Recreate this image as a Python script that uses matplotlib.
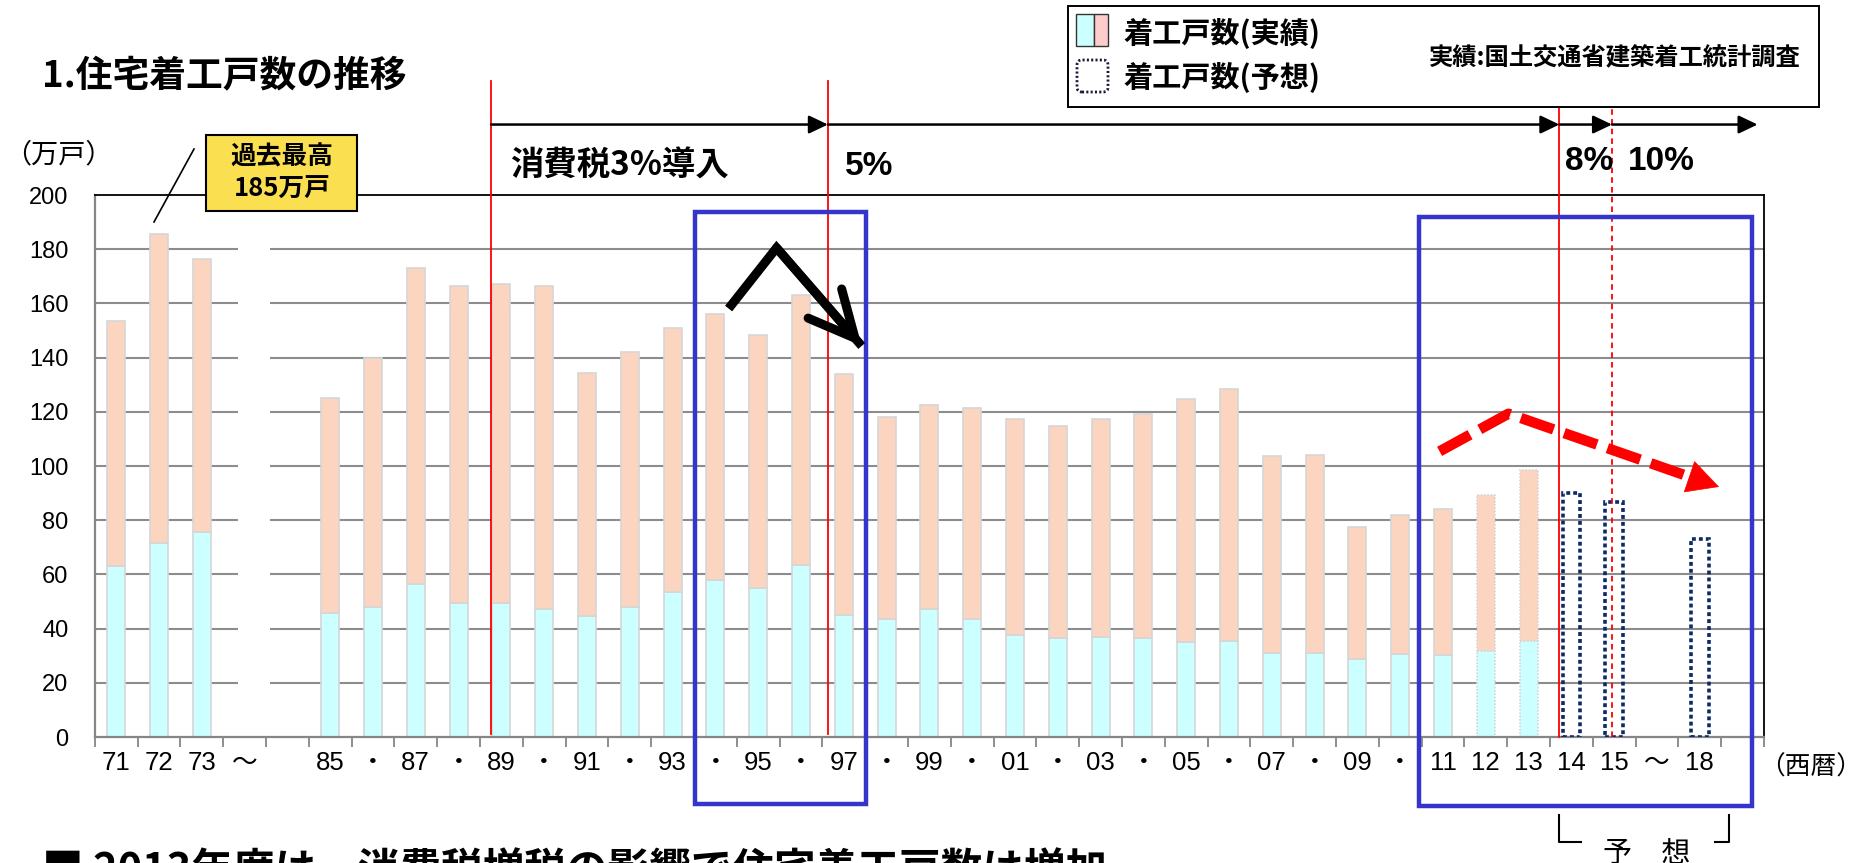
import numpy as np
import matplotlib
matplotlib.use('Agg')
import matplotlib.pyplot as plt
from matplotlib.patches import Rectangle, FancyBboxPatch
from matplotlib.transforms import IdentityTransform
from matplotlib.lines import Line2D

W, H = 1864, 863
plt.rcParams['font.family'] = ['Liberation Sans', 'Noto Sans CJK JP', 'DejaVu Sans']
plt.rcParams['lines.scale_dashes'] = False
JP = ['Noto Sans CJK JP', 'DejaVu Sans']

# ---------------- data ----------------
tick_labels = ['71', '72', '73', '～', '', '85', '・', '87', '・', '89', '・', '91', '・', '93',
               '・', '95', '・', '97', '・', '99', '・', '01', '・', '03', '・', '05', '・', '07',
               '・', '09', '・', '11', '12', '13', '14', '15', '～', '18', '']
total_actual = [153.6, 185.6, 176.3, None, None,
                125.1, 139.9, 172.9, 166.3, 167.3, 166.5, 134.3, 142.0, 151.0, 156.1,
                148.5, 163.0, 134.1, 118.0, 122.6, 121.3, 117.3, 114.6, 117.3, 119.3,
                124.9, 128.5, 103.6, 103.9, 77.5, 81.9, 84.1, 89.3, 98.7,
                None, None, None, None, None]
lower_actual = [63.1, 71.5, 75.7, None, None,
                45.9, 47.9, 56.3, 49.6, 49.6, 47.3, 44.5, 47.9, 53.5, 57.8,
                54.8, 63.5, 45.0, 43.6, 47.3, 43.6, 37.5, 36.4, 36.9, 36.4,
                35.0, 35.3, 31.0, 31.0, 28.7, 30.6, 30.3, 31.7, 35.3,
                None, None, None, None, None]
forecast = [None] * 34 + [90.0, 86.9, None, 73.2, None]
y_ticks = [0, 20, 40, 60, 80, 100, 120, 140, 160, 180, 200]

C_LOW = '#CCFFFF'
C_UP = '#FCD5C0'


def F(px, py):
    return (px / W, 1 - py / H)


fig = plt.figure(figsize=(W / 100, H / 100), dpi=100)
ax = fig.add_axes([94.7 / W, 1 - 737 / H, (1764 - 94.7) / W, (737 - 195) / H])
n = len(tick_labels)
ax.set_xlim(-0.5, n - 0.5)
ax.set_ylim(0, 200)

# gridlines (broken at the axis break)
for yv in y_ticks[1:-1]:
    ax.hlines(yv, -0.5, 2.85, color='#8C8C8C', lw=1.5, zorder=0)
    ax.hlines(yv, 3.6, n - 0.5, color='#8C8C8C', lw=1.5, zorder=0)

# actual bars
idx = [i for i, v in enumerate(total_actual) if v is not None]
low = np.array([lower_actual[i] for i in idx])
tot = np.array([total_actual[i] for i in idx])
b1 = ax.bar(idx, low, width=0.42, color=C_LOW, edgecolor='#D6D6D6', lw=1.2, zorder=2)
b2 = ax.bar(idx, tot - low, bottom=low, width=0.42, color=C_UP, edgecolor='#D6D6D6', lw=1.2, zorder=2)
for bars in (b1, b2):
    for i, p in zip(idx, bars.patches):
        if tick_labels[i] in ('12', '13'):
            p.set_linestyle((0, (1.2, 1.2)))

# forecast bars
fidx = [i for i, v in enumerate(forecast) if v is not None]
fval = [forecast[i] for i in fidx]
ax.bar(fidx, fval, width=0.41, fill=False, edgecolor='#0E2A66', lw=2.6,
       linestyle=(0, (2.8, 2.2)), zorder=3)

# axes styling
for s in ('left', 'bottom'):
    ax.spines[s].set_color('#868686')
    ax.spines[s].set_linewidth(1.6)
for s in ('top', 'right'):
    ax.spines[s].set_color('black')
    ax.spines[s].set_linewidth(1.3)
ax.set_yticks(y_ticks)
ax.set_yticklabels([str(v) for v in y_ticks])
ax.tick_params(axis='y', length=0, pad=19, labelsize=17)
ax.set_xticks(np.arange(n))
ax.set_xticklabels(tick_labels)
ax.tick_params(axis='x', which='major', length=0, pad=10, labelsize=18.5)
ax.set_xticks(np.arange(-0.5, n, 1), minor=True)
ax.tick_params(axis='x', which='minor', length=7, width=1.3, color='#868686')

# consumption-tax timeline
red1, red2, red3, red4 = 8.76, 16.63, 33.72, 34.95
ax.plot([red1, red1], [1, 242], color='red', lw=1.3, clip_on=False, zorder=4)
ax.plot([red2, red2], [1, 242], color='red', lw=1.3, clip_on=False, zorder=4)
ax.plot([red3, red3], [0, 232.5], color='red', lw=1.3, clip_on=False, zorder=4)
ax.plot([red4, red4], [0, 232.5], color='red', lw=1.3, ls=(0, (4, 3)), clip_on=False, zorder=4)
yarr = 226.0
for a, b in [(red1, red2), (red2, red3), (red3, red4), (red4, 38.35)]:
    ax.annotate('', xy=(b, yarr), xytext=(a, yarr),
                arrowprops=dict(arrowstyle='-|>,head_length=1.15,head_width=0.55',
                                lw=1.8, color='black', shrinkA=0, shrinkB=0),
                annotation_clip=False, zorder=5)

fig.text(*F(510, 166), '消費税3%導入', fontsize=24, fontweight='bold', va='center', ha='left', family=JP)
fig.text(*F(845, 166), '5%', fontsize=24, fontweight='bold', va='center', ha='left')
fig.text(*F(1565, 161), '8%', fontsize=24, fontweight='bold', va='center', ha='left')
fig.text(*F(1628, 161), '10%', fontsize=24, fontweight='bold', va='center', ha='left')

# blue highlight boxes
ax.add_patch(Rectangle((13.53, -24.8), 17.51 - 13.53, 193.8 + 24.8, fill=False,
                       edgecolor='#3535CC', lw=3.2, clip_on=False, zorder=6))
ax.add_patch(Rectangle((30.44, -25.3), 38.22 - 30.44, 192.0 + 25.3, fill=False,
                       edgecolor='#3535CC', lw=3.2, clip_on=False, zorder=6))

# black trend arrow (1997)
ax.plot([14.31, 15.43, 17.42], [158.1, 180.5, 144.3], color='black', lw=6.5,
        solid_joinstyle='miter', solid_capstyle='butt', zorder=7, clip_on=False)
ax.annotate('', xy=(17.42, 144.3), xytext=(15.43, 180.5),
            arrowprops=dict(arrowstyle='->,head_length=3.3,head_width=1.6', lw=6.5,
                            color='black', shrinkA=0, shrinkB=0, capstyle='round'),
            zorder=7)

# red dashed trend arrow (2014)
ax.plot([30.92, 32.53, 36.80], [105.4, 119.3, 95.8], color='red', lw=7.5,
        dashes=(25, 8), solid_capstyle='butt', dash_capstyle='butt', zorder=7, clip_on=False)
ax.annotate('', xy=(37.45, 92.3), xytext=(36.80, 95.8),
            arrowprops=dict(arrowstyle='-|>,head_length=2.2,head_width=1.15', lw=0.5,
                            color='red', shrinkA=0, shrinkB=0),
            zorder=7)

# title and unit labels
fig.text(*F(42, 77), '1.住宅着工戸数の推移', fontsize=26.5, fontweight='bold', va='center', ha='left', family=JP)
fig.text(*F(4, 155), '（万戸）', fontsize=19.5, va='center', ha='left', family=JP)
fig.text(*F(1862, 768), '（西暦）', fontsize=18.5, va='center', ha='right', family=JP)

# peak callout
fig.add_artist(Line2D([194 / W, 154 / W], [1 - 149 / H, 1 - 222 / H], color='black', lw=1.2))
fig.add_artist(Rectangle(F(206, 211), (357 - 206) / W, (211 - 135) / H, transform=fig.transFigure,
                         facecolor='#FADF50', edgecolor='black', lw=1.5))
fig.text(*F(282, 157), '過去最高', fontsize=18.5, fontweight='bold', va='center', ha='center', family=JP)
fig.text(*F(282, 189), '185万戸', fontsize=18.5, fontweight='bold', va='center', ha='center', family=JP)

# legend box
fig.add_artist(Rectangle(F(1068, 107), (1819 - 1068) / W, (107 - 6) / H, transform=fig.transFigure,
                         facecolor='white', edgecolor='black', lw=1.4))
fig.add_artist(Rectangle(F(1076, 46), 18 / W, 32 / H, transform=fig.transFigure,
                         facecolor='#CCFFFF', edgecolor='#333333', lw=1.0))
fig.add_artist(Rectangle(F(1094, 46), 14 / W, 32 / H, transform=fig.transFigure,
                         facecolor='#FFCCCC', edgecolor='#333333', lw=1.0))
fig.add_artist(FancyBboxPatch((1077, H - 92), 31, 32, boxstyle='round,pad=0,rounding_size=5',
                              transform=IdentityTransform(), fill=False, edgecolor='#1A1A40',
                              lw=2.0, linestyle=(0, (1.5, 1.6))))
fig.text(*F(1123, 33), '着工戸数(実績)', fontsize=21, fontweight='bold', va='center', ha='left', family=JP)
fig.text(*F(1123, 77), '着工戸数(予想)', fontsize=21, fontweight='bold', va='center', ha='left', family=JP)
fig.text(*F(1429, 58), '実績:国土交通省建築着工統計調査', fontsize=17.5, fontweight='bold',
         va='center', ha='left', family=JP)

# forecast bracket
fig.add_artist(Line2D([1559 / W, 1559 / W, 1581 / W], [1 - 815 / H, 1 - 842 / H, 1 - 842 / H], color='black', lw=1.5))
fig.add_artist(Line2D([1729 / W, 1729 / W, 1715 / W], [1 - 815 / H, 1 - 842 / H, 1 - 842 / H], color='black', lw=1.5))
fig.text(*F(1647, 862), '予　想', fontsize=21, va='baseline', ha='center', family=JP)

# headline (cut off at bottom edge as in the source)
fig.text(*F(42, 884), '■ 2013年度は、消費税増税の影響で住宅着工戸数は増加', fontsize=30,
         fontweight='bold', va='baseline', ha='left', family=JP)

fig.savefig('out.png', dpi=100)
